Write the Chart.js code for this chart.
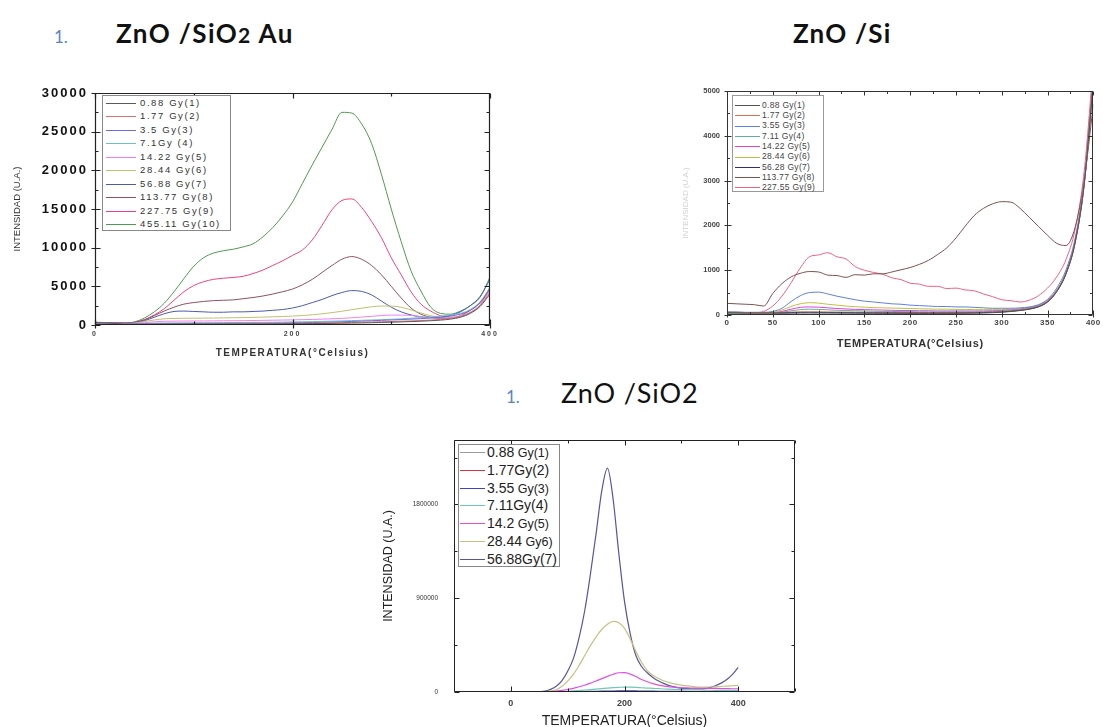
<!DOCTYPE html>
<html><head><meta charset="utf-8">
<script src="https://cdn.jsdelivr.net/npm/chart.js@4.4.1/dist/chart.umd.min.js"></script>
<style>
html,body{margin:0;padding:0;background:#fff;width:1103px;height:727px;overflow:hidden;position:relative;}
.abs{position:absolute;white-space:nowrap;line-height:1;font-family:Lato,"Open Sans",sans-serif;color:#111;}
canvas{position:absolute;}
.legend{position:absolute;border:1px solid #888;box-sizing:border-box;background:#fff;font-family:"Liberation Sans",Arial,sans-serif;}
.legend .sw{position:absolute;height:1px;}
.legend .tx{position:absolute;white-space:nowrap;line-height:1;}
</style></head><body>
<div class="abs" style="left:54px;top:28px;font-size:17px;color:#5b84c4;">1.</div>
<div class="abs" style="left:116px;top:20px;font-size:26px;font-weight:700;letter-spacing:1.4px;">ZnO /SiO<span style="font-size:21px">2</span> Au</div>
<div class="abs" style="left:793px;top:20px;font-size:26px;font-weight:700;letter-spacing:1.2px;">ZnO /Si</div>
<div class="abs" style="left:506px;top:388px;font-size:17px;color:#5b84c4;">1.</div>
<div class="abs" style="left:561px;top:379px;font-size:27px;font-weight:400;letter-spacing:0.9px;">ZnO /SiO2</div>

<canvas id="c1" width="510" height="312" style="left:0;top:60px"></canvas>
<canvas id="c2" width="428" height="300" style="left:675px;top:60px"></canvas>
<canvas id="c3" width="440" height="310" style="left:370px;top:420px"></canvas>

<script>
// ---------- DATA ----------
const temperatures = [0,10,20,30,40,50,60,70,80,90,100,110,120,130,140,150,160,170,180,190,200,210,220,230,240,250,260,270,280,290,300,310,320,330,340,350,360,370,380,390,400];

// ZnO / SiO2 Au
const auLabels = ['0.88 Gy(1)','1.77 Gy(2)','3.5 Gy(3)','7.1Gy (4)','14.22 Gy(5)','28.44 Gy(6)','56.88 Gy(7)','113.77 Gy(8)','227.75 Gy(9)','455.11 Gy(10)'];
const auColors = ['#5a5a5a','#e07070','#6a6ae0','#70c0c0','#f080f0','#c0c070','#4a5ab0','#905060','#f04080','#4f9a4f'];
const auXTicks = [0,100,200,300,400];
const auXTickLabels = [0,200,400];
const auYTicks = [0,2500,5000,7500,10000,12500,15000,17500,20000,22500,25000,27500,30000];
const auYTickLabels = [0,5000,10000,15000,20000,25000,30000];
const au1 = [300,260,200,120,90,90,90,100,100,100,110,110,110,120,120,120,130,130,140,150,160,170,180,190,210,230,250,270,300,330,360,400,440,490,550,630,760,1000,1500,2400,4000];
const au2 = [100,90,80,80,90,100,110,120,120,130,130,140,140,150,150,160,170,180,190,200,210,220,240,260,280,300,330,360,390,420,450,490,530,580,640,720,850,1100,1600,2500,4200];
const au3 = [120,110,100,100,120,150,170,180,190,190,200,200,210,210,220,220,230,240,250,260,280,300,320,350,380,420,460,500,550,600,650,700,760,820,900,1000,1150,1400,1900,2900,4700];
const au4 = [150,140,120,120,150,200,240,260,270,280,290,300,300,310,320,330,340,350,360,380,400,420,440,470,500,530,570,610,650,690,740,800,880,960,1050,1150,1300,1500,2000,3000,4800];
const au5 = [200,180,150,150,200,300,420,480,500,510,520,520,530,540,550,560,580,600,620,640,660,690,720,760,800,860,930,1020,1120,1220,1280,1280,1230,1100,950,900,950,1150,1650,2600,4500];
const au6 = [250,230,200,200,250,450,650,800,850,870,880,890,900,920,940,960,990,1020,1060,1100,1150,1220,1320,1450,1600,1780,1980,2180,2350,2450,2450,2300,1950,1550,1200,1000,950,1100,1600,2600,4500];
const au7 = [300,280,250,230,300,550,1000,1450,1750,1800,1750,1700,1650,1650,1700,1700,1750,1800,1900,2000,2200,2500,2900,3300,3800,4200,4450,4350,3900,3100,2300,1700,1300,1050,950,1000,1250,1700,2500,3700,5900];
const au8 = [350,300,250,250,350,650,1200,1800,2300,2700,2900,3050,3150,3200,3250,3400,3550,3750,4000,4300,4650,5200,5900,6800,7700,8500,8850,8500,7700,6500,5000,3500,2200,1400,1000,850,900,1200,1900,2900,4700];
const au9 = [350,320,280,250,350,700,1300,2100,3200,4300,5100,5600,5900,6050,6150,6300,6650,7100,7700,8300,9000,9700,11000,12900,14900,16100,16300,15200,13400,11300,8700,6500,4300,2700,1800,1200,1000,1100,1600,2600,4900];
const au10 = [300,280,250,250,400,900,1700,2800,4300,6000,7600,8700,9300,9600,9800,10100,10500,11400,12600,14100,15900,18300,20700,23000,25300,27500,27400,26000,23500,19500,15000,10800,7000,4400,2300,1500,1400,1800,2500,3600,6200];
const auSeries = [au1,au2,au3,au4,au5,au6,au7,au8,au9,au10];

// ZnO / Si
const siLabels = ['0.88 Gy(1)','1.77 Gy(2)','3.55 Gy(3)','7.11 Gy(4)','14.22 Gy(5)','28.44 Gy(6)','56.28 Gy(7)','113.77 Gy(8)','227.55 Gy(9)'];
const siColors = ['#505050','#e07050','#6080e0','#60b0a0','#e040e0','#c0c040','#303070','#805050','#f06080'];
const siXTicks = [0,25,50,75,100,125,150,175,200,225,250,275,300,325,350,375,400];
const siXTickLabels = [0,50,100,150,200,250,300,350,400];
const siYTicks = [0,500,1000,1500,2000,2500,3000,3500,4000,4500,5000];
const siYTickLabels = [0,1000,2000,3000,4000,5000];
const si1 = [50,50,45,45,45,45,50,55,58,60,58,56,55,54,52,50,50,48,48,46,46,45,45,45,45,46,48,50,55,60,70,85,105,135,185,295,525,915,1610,2920,5200];
const si2 = [60,60,55,55,55,55,60,65,70,70,70,68,66,65,64,62,60,60,58,58,56,56,55,55,55,55,56,58,60,65,75,90,110,140,190,300,530,920,1620,2930,5200];
const si3 = [70,70,60,60,60,80,150,300,430,500,510,470,420,380,340,310,290,270,250,240,220,210,200,190,190,180,180,170,160,150,150,150,160,180,230,350,600,1000,1700,3000,5300];
const si4 = [30,30,30,30,30,35,60,95,120,130,125,115,105,100,95,90,85,80,80,75,75,70,70,70,70,70,70,70,75,80,90,100,120,150,200,310,540,930,1630,2940,5200];
const si5 = [40,40,35,35,35,45,80,130,170,180,175,160,145,135,125,120,115,110,105,100,100,95,95,90,90,90,90,90,90,95,100,110,130,160,210,320,550,940,1640,2950,5200];
const si6 = [50,50,45,45,45,60,110,190,250,275,265,240,220,200,185,175,165,160,155,150,145,140,135,130,130,125,125,120,120,120,120,125,140,170,220,330,560,950,1650,2950,5200];
const si7 = [40,40,38,38,38,38,40,42,45,46,45,44,43,42,41,40,40,39,39,38,38,38,38,38,38,39,40,42,46,52,62,78,100,130,180,290,520,910,1600,2900,5200];
const si8 = [260,250,240,230,200,480,700,850,930,970,960,890,880,840,900,890,920,920,960,1010,1060,1130,1220,1350,1500,1720,1980,2220,2380,2480,2530,2520,2380,2180,1980,1780,1600,1550,1950,3000,4700];
const si9 = [60,55,50,50,80,200,420,720,1050,1300,1340,1390,1300,1250,1080,1000,950,910,830,790,710,690,640,640,590,600,560,540,470,410,340,320,290,330,430,600,850,1230,1900,3200,5600];
const siSeries = [si1,si2,si3,si4,si5,si6,si7,si8,si9];

// ZnO / SiO2
const so2Labels = ['0.88 Gy(1)','1.77Gy(2)','3.55 Gy(3)','7.11Gy(4)','14.2 Gy(5)','28.44 Gy6)','56.88Gy(7)'];
const so2Colors = ['#9a9a9a','#e03040','#4040d0','#70c8b8','#e050e0','#c8c080','#55559f'];
const so2XTicks = [-100,0,100,200,300,400,500];
const so2XTickLabels = [0,200,400];
const so2YTicks = [0,450000,900000,1350000,1800000,2250000];
const so2YTickLabels = [0,900000,1800000];
const so1 = [0,0,0,0,0,0,20,60,140,250,370,520,700,900,1100,1300,1500,1700,1850,1950,2000,1950,1850,1750,1650,1550,1450,1350,1250,1150,1100,1050,1000,950,900,850,800,800,750,750,700];
const so2 = [0,0,0,0,0,0,50,150,350,600,900,1300,1700,2200,2700,3200,3700,4100,4500,4800,5000,4900,4700,4400,4100,3800,3500,3200,3000,2800,2600,2400,2300,2200,2100,2000,1900,1800,1800,1700,1700];
const so3 = [0,0,0,0,0,0,100,300,700,1200,1800,2600,3500,4500,5600,6800,8000,9000,9800,10300,10500,10300,9900,9300,8700,8000,7400,6800,6300,5800,5400,5000,4700,4400,4200,4000,3800,3700,3600,3500,3500];
const so4 = [0,0,0,0,0,0,300,1000,2500,4500,7000,10000,14000,18000,23000,28000,33000,38000,42000,45000,47000,46000,44000,41000,38000,35000,32000,29000,27000,25000,23000,21000,20000,19000,18000,17000,16000,16000,15000,15000,15000];
const so5 = [0,0,0,0,0,0,1000,4000,8000,16000,24000,35000,50000,65000,85000,105000,128000,150000,170000,185000,186000,172000,148000,120000,98000,80000,66000,56000,49000,44000,41000,39000,38000,37000,36000,35000,34000,33000,32000,31000,31000];
const so6 = [0,0,0,0,0,0,3000,10000,22000,55000,105000,170000,255000,350000,445000,530000,600000,650000,678000,665000,611000,510000,390000,285000,205000,160000,130000,105000,88000,76000,66000,58000,52000,48000,47000,48000,50000,53000,57000,60000,63000];
const so7 = [0,0,0,0,0,2000,8000,25000,55000,110000,200000,320000,520000,780000,1130000,1520000,1930000,2150000,1850000,1330000,870000,560000,350000,245000,185000,140000,105000,80000,60000,46000,38000,33000,30000,30000,33000,42000,60000,85000,120000,170000,236000];
const so2Series = [so1,so2,so3,so4,so5,so6,so7];

// ---------- HELPERS ----------
const FAM = '"Liberation Sans", Arial, sans-serif';

function spacingPlugin(map){
  return {id:'spacing', beforeDraw(chart){
    Object.keys(map).forEach(id => {
      const s = chart.scales[id];
      if (!s || s.__sp) return; s.__sp = true;
      const m = map[id];
      const dl = s.drawLabels, dt = s.drawTitle;
      s.drawLabels = function(a){ const c=this.ctx; c.save(); c.letterSpacing=m.labels||'0px'; dl.call(this,a); c.restore(); };
      s.drawTitle = function(){ const c=this.ctx; c.save(); c.letterSpacing=m.title||'0px'; dt.call(this); c.restore(); };
    });
  }};
}

const framePlugin = {
  id:'frame',
  afterDatasetsDraw(chart, args, o){
    const {ctx, chartArea:a, scales:{x,y}} = chart;
    ctx.save();
    ctx.strokeStyle = o.color; ctx.lineWidth = o.width;
    const L=Math.round(a.left)+0.5, R=Math.round(a.right)-0.5, T=Math.round(a.top)+0.5, B=Math.round(a.bottom)-0.5;
    ctx.beginPath(); ctx.rect(L,T,R-L,B-T); ctx.stroke();
    ctx.beginPath();
    x.ticks.forEach(t => {
      if (t.value < x.min || t.value > x.max) return;
      const px = Math.round(x.getPixelForValue(t.value))+0.5;
      const maj = t.label !== '';
      const len = maj ? o.major : o.minor;
      ctx.moveTo(px,B+(maj?o.out:0)); ctx.lineTo(px,B-len);
      ctx.moveTo(px,T); ctx.lineTo(px,T+len);
    });
    y.ticks.forEach(t => {
      if (t.value < y.min || t.value > y.max) return;
      const py = Math.round(y.getPixelForValue(t.value))+0.5;
      const maj = t.label !== '';
      const len = maj ? o.major : o.minor;
      ctx.moveTo(L-(maj?o.out:0),py); ctx.lineTo(L+len,py);
      ctx.moveTo(R,py); ctx.lineTo(R-len,py);
    });
    ctx.stroke();
    ctx.restore();
  }
};

function makeChart(c){
  const pos=c.pos, ar=c.area;
  const yLh = c.yTitleFont.size*1.2, xLh = c.xTitleFont.size*1.2;
  const padLeft = c.yTitleX - pos.left - yLh/2;
  const yW = ar.l - pos.left - padLeft;
  const xH = pos.top + pos.height - ar.b;
  const xTitlePadB = pos.top + pos.height - c.xTitleY - xLh/2;
  const datasets = c.series.map((vals,i)=>({
    label:c.labels[i],
    data: temperatures.map((t,k)=>({x:t,y:vals[k]})),
    borderColor:c.colors[i], backgroundColor:c.colors[i],
    borderWidth:c.lineWidth, pointRadius:0, fill:false,
    cubicInterpolationMode:'monotone'
  }));
  const fmt = (labels) => (v) => (labels.includes(Number(v)) ? String(v) : '');
  const setTicks = (vals) => (s) => { s.ticks = vals.map(v => ({value:v})); };
  const chart = new Chart(document.getElementById(c.id), {
    type:'line',
    data:{datasets},
    options:{
      responsive:false, animation:false, devicePixelRatio:1,
      layout:{autoPadding:false, padding:{left:padLeft, top:ar.t-pos.top, right:pos.left+pos.width-ar.r, bottom:0}},
      plugins:{legend:{display:false}, tooltip:{enabled:false}, frame:c.frame},
      scales:{
        x:{type:'linear', min:c.x.min, max:c.x.max,
          afterBuildTicks:setTicks(c.x.ticks),
          ticks:{autoSkip:false, maxRotation:0, padding:c.x.pad,
            font:c.x.font, color:c.x.color, callback:fmt(c.x.labels)},
          grid:{display:false, drawTicks:false}, border:{display:false},
          title:{display:true, text:'TEMPERATURA(°Celsius)', font:c.xTitleFont, color:c.xTitleColor, padding:{top:0,bottom:xTitlePadB}},
          afterFit:(s)=>{ s.height = xH; }
        },
        y:{type:'linear', min:c.y.min, max:c.y.max,
          afterBuildTicks:setTicks(c.y.ticks),
          ticks:{autoSkip:false, padding:c.y.pad,
            font:c.y.font, color:c.y.color, callback:fmt(c.y.labels)},
          grid:{display:false, drawTicks:false}, border:{display:false},
          title:{display:true, text:'INTENSIDAD (U.A.)', font:c.yTitleFont, color:c.yTitleColor, padding:{top:0,bottom:0}},
          afterFit:(s)=>{ s.width = yW; }
        }
      }
    },
    plugins:[framePlugin, spacingPlugin(c.spacing)]
  });
  buildLegend(chart, c.legend);
  return chart;
}

function buildLegend(chart, L){
  const box = document.createElement('div');
  box.className='legend';
  Object.assign(box.style,{left:L.l+'px', top:L.t+'px', width:(L.r-L.l)+'px', height:(L.b-L.t)+'px', borderColor:L.border});
  chart.data.datasets.forEach((ds,i)=>{
    const cy = L.first + i*L.rowH - L.t - 1;
    const sw = document.createElement('div');
    sw.className='sw';
    Object.assign(sw.style,{left:(L.lineL-L.l-1)+'px', width:(L.lineR-L.lineL)+'px', top:Math.round(cy)+'px', background:ds.borderColor});
    box.appendChild(sw);
    const tx = document.createElement('div');
    tx.className='tx';
    Object.assign(tx.style,{left:(L.textL-L.l-1)+'px', top:(cy - L.size*0.5)+'px', fontSize:L.size+'px', color:L.color, letterSpacing:L.ls||'0px'});
    const m = ds.label.match(/^([\d.]+)(\s.*)$/);
    if (L.smallRest && m){
      tx.appendChild(document.createTextNode(m[1]));
      const sp=document.createElement('span'); sp.style.fontSize=L.smallRest+'px'; sp.textContent=m[2]; tx.appendChild(sp);
    } else tx.textContent = ds.label;
    box.appendChild(tx);
  });
  document.body.appendChild(box);
}

// ---------- CHART 1: ZnO/SiO2 Au ----------
makeChart({
  id:'c1', pos:{left:0,top:60,width:510,height:312}, area:{l:95,t:93,r:490,b:325},
  series:auSeries, labels:auLabels, colors:auColors, lineWidth:1,
  x:{min:0,max:400,ticks:auXTicks,labels:auXTickLabels,pad:5,font:{family:FAM,size:7,weight:'bold'},color:'#444'},
  y:{min:0,max:30000,ticks:auYTicks,labels:auYTickLabels,pad:7,font:{family:FAM,size:13,weight:'bold'},color:'#111'},
  yTitleX:17, yTitleFont:{family:FAM,size:9.5}, yTitleColor:'#333',
  xTitleY:353, xTitleFont:{family:FAM,size:10,weight:'bold'}, xTitleColor:'#333',
  spacing:{x:{labels:'2px',title:'1.5px'}, y:{labels:'2px',title:'0px'}},
  frame:{color:'#222',width:1.2,major:5,minor:3,out:4},
  legend:{l:102,t:95,r:231,b:231,first:102.7,rowH:13.5,lineL:106,lineR:136,textL:140,size:9.5,color:'#333',ls:'1.6px',border:'#888'}
});

// ---------- CHART 2: ZnO/Si ----------
makeChart({
  id:'c2', pos:{left:675,top:60,width:428,height:300}, area:{l:727,t:91,r:1098,b:315},
  series:siSeries, labels:siLabels, colors:siColors, lineWidth:1,
  x:{min:0,max:400,ticks:siXTicks,labels:siXTickLabels,pad:3,font:{family:FAM,size:8,weight:'bold'},color:'#444'},
  y:{min:0,max:5000,ticks:siYTicks,labels:siYTickLabels,pad:7,font:{family:FAM,size:7.5,weight:'bold'},color:'#444'},
  yTitleX:686, yTitleFont:{family:FAM,size:8}, yTitleColor:'#d0d0d0',
  xTitleY:344, xTitleFont:{family:FAM,size:11,weight:'bold'}, xTitleColor:'#333',
  spacing:{x:{labels:'0.5px',title:'0.6px'}, y:{labels:'0px',title:'0px'}},
  frame:{color:'#333',width:1,major:4,minor:2.5,out:3},
  legend:{l:732,t:95,r:824,b:192,first:105,rowH:10.3,lineL:735,lineR:760,textL:762,size:8.5,color:'#444',ls:'0.3px',border:'#999'}
});

// ---------- CHART 3: ZnO/SiO2 ----------
makeChart({
  id:'c3', pos:{left:370,top:420,width:440,height:310}, area:{l:454,t:435,r:795,b:692},
  series:so2Series, labels:so2Labels, colors:so2Colors, lineWidth:1.2,
  x:{min:-100,max:500,ticks:so2XTicks,labels:so2XTickLabels,pad:6,font:{family:FAM,size:9,weight:'bold'},color:'#444'},
  y:{min:0,max:2420000,ticks:so2YTicks,labels:so2YTickLabels,pad:16,font:{family:FAM,size:6.5},color:'#333'},
  yTitleX:389, yTitleFont:{family:FAM,size:12.5}, yTitleColor:'#222',
  xTitleY:721, xTitleFont:{family:FAM,size:14}, xTitleColor:'#222',
  spacing:{x:{labels:'0px',title:'0px'}, y:{labels:'0px',title:'0px'}},
  frame:{color:'#222',width:1,major:5,minor:3,out:0},
  legend:{l:458,t:444,r:560,b:567,first:451.7,rowH:17.9,lineL:460,lineR:485,textL:487,size:14,smallRest:12.5,color:'#222',border:'#888'}
});
</script>
</body></html>
